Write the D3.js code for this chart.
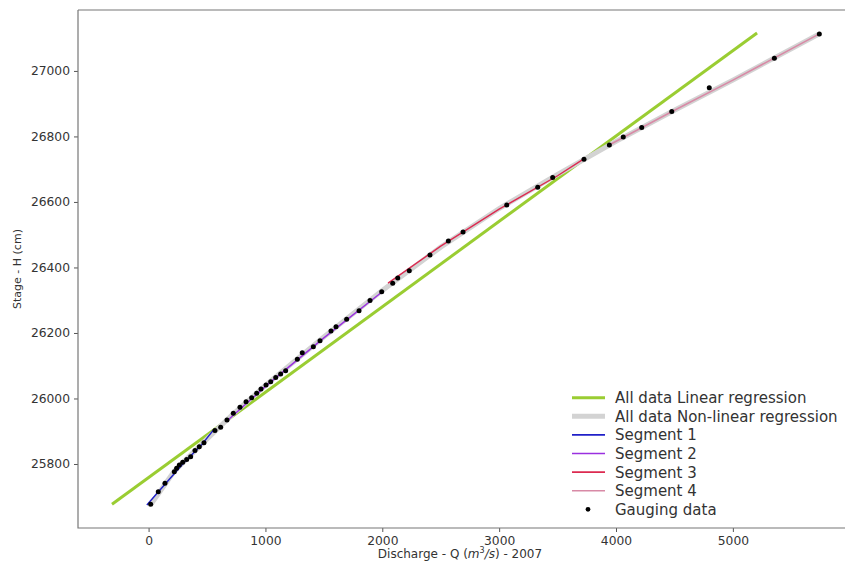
<!DOCTYPE html>
<html>
<head>
<meta charset="utf-8">
<script src="https://cdn.jsdelivr.net/npm/d3@7"></script>
<style>
  body { margin: 0; background: #fff; }
  text { font-family: "DejaVu Sans", sans-serif; fill: #333; }
</style>
</head>
<body>
<svg id="chart"></svg>
<script>
// gauging data, discharge Q (m3/s) and stage H (cm)
var gaugeQ = [18, 83, 140, 220, 240, 263, 292, 326, 360, 397, 434, 474, 568, 617, 671, 725, 782, 834, 882, 925,
  962, 1005, 1045, 1088, 1130, 1173, 1273, 1315, 1410, 1467, 1561, 1604, 1695, 1801, 1895, 1995, 2089, 2132, 2231, 2408,
  2565, 2691, 3065, 3330, 3458, 3726, 3943, 4062, 4220, 4477, 4798, 5355, 5740];
var gaugeH = [25677, 25715, 25741, 25776, 25787, 25797, 25805, 25814, 25822, 25841, 25853, 25865, 25902, 25912, 25934, 25955, 25973, 25990, 26002, 26016,
  26029, 26041, 26051, 26064, 26075, 26085, 26120, 26140, 26158, 26176, 26206, 26219, 26242, 26268, 26299, 26326, 26352, 26368, 26390, 26438,
  26481, 26508, 26591, 26645, 26675, 26730, 26774, 26798, 26827, 26876, 26949, 27039, 27113];

// regressions
var linQ = [-313, 5207];
var linH = [25677, 27116];
var nonlinQ = [20, 220, 470, 700, 1000, 1500, 2000, 2500, 3000, 3500, 4000, 4500, 5000, 5740];
var nonlinH = [25677, 25778, 25866, 25945, 26040, 26188, 26330, 26462, 26580, 26684, 26785, 26880, 26972, 27113];

// segments
var seg1Q = [-15, 150, 300, 450, 560];
var seg1H = [25675, 25742, 25803, 25857, 25906];
var seg2Q = [680, 1000, 1500, 2000];
var seg2H = [25934, 26037, 26185, 26326];
var seg3Q = [2049, 2500, 3000, 3500, 3718];
var seg3H = [26352, 26465, 26578, 26680, 26730];
var seg4Q = [3941, 4500, 5000, 5740];
var seg4H = [26774, 26880, 26972, 27113];

var xTicks = [0, 1000, 2000, 3000, 4000, 5000];
var yTicks = [25800, 26000, 26200, 26400, 26600, 26800, 27000];

var legendLabels = ["All data Linear regression", "All data Non-linear regression", "Segment 1", "Segment 2", "Segment 3", "Segment 4", "Gauging data"];

var width = 845, height = 566;

var svg = d3.select("#chart")
  .attr("width", width)
  .attr("height", height);

var x = d3.scaleLinear().domain([-604, 6040]).range([78, 854.4]);
var y = d3.scaleLinear().domain([25604.6, 27186]).range([528, 10]);

var zip = function(qs, hs) { return qs.map(function(q, i) { return [q, hs[i]]; }); };

var line = d3.line()
  .x(function(d) { return x(d[0]); })
  .y(function(d) { return y(d[1]); });

// lines
var series = [
  { data: zip(linQ, linH), color: "#9acd32", w: 3 },
  { data: zip(nonlinQ, nonlinH), color: "#d3d3d3", w: 5 },
  { data: zip(seg1Q, seg1H), color: "#2020c8", w: 1.4 },
  { data: zip(seg2Q, seg2H), color: "#9a30e0", w: 1.4 },
  { data: zip(seg3Q, seg3H), color: "#dc2a50", w: 1.4 },
  { data: zip(seg4Q, seg4H), color: "#d88aa6", w: 1.6 }
];

svg.append("g")
  .selectAll("path")
  .data(series)
  .join("path")
    .attr("d", function(d) { return line(d.data); })
    .attr("fill", "none")
    .attr("stroke", function(d) { return d.color; })
    .attr("stroke-width", function(d) { return d.w; });

svg.append("g")
  .selectAll("circle")
  .data(zip(gaugeQ, gaugeH))
  .join("circle")
    .attr("cx", function(d) { return x(d[0]); })
    .attr("cy", function(d) { return y(d[1]); })
    .attr("r", 2.5)
    .attr("fill", "#000");

// axes
var xAxis = svg.append("g")
  .attr("transform", "translate(0,528)")
  .call(d3.axisBottom(x).tickValues(xTicks).tickFormat(d3.format("d")).tickSize(4).tickPadding(4));

var yAxis = svg.append("g")
  .attr("transform", "translate(78,0)")
  .call(d3.axisLeft(y).tickValues(yTicks).tickFormat(d3.format("d")).tickSize(4).tickPadding(4));

[xAxis, yAxis].forEach(function(a) {
  a.select(".domain").remove();
  a.selectAll("line").attr("stroke", "#555");
  a.selectAll("text").attr("font-size", 12.3).attr("fill", "#333").attr("font-family", "DejaVu Sans, sans-serif");
});

// spines
svg.append("path")
  .attr("d", "M78,10H856M78,10V528H856")
  .attr("fill", "none")
  .attr("stroke", "#777")
  .attr("stroke-width", 1.2);

// axis labels
var xl = svg.append("text")
  .attr("x", 460)
  .attr("y", 558)
  .attr("text-anchor", "middle")
  .attr("font-size", 12);
xl.append("tspan").text("Discharge - Q (");
xl.append("tspan").attr("font-style", "italic").text("m");
xl.append("tspan").attr("font-size", 8).attr("dy", -5).text("3");
xl.append("tspan").attr("dy", 5).attr("font-style", "italic").text("/s");
xl.append("tspan").text(") - 2007");

svg.append("text")
  .attr("transform", "translate(21,269) rotate(-90)")
  .attr("text-anchor", "middle")
  .attr("font-size", 11)
  .text("Stage - H (cm)");

// legend
var legend = svg.append("g");
var rowY = function(i) { return 397.7 + i * 18.6; };
var handles = series.concat([{ dot: true }]);

legend.selectAll("g")
  .data(handles)
  .join("g")
    .each(function(d, i) {
      var g = d3.select(this);
      if (d.dot) {
        g.append("circle").attr("cx", 588).attr("cy", rowY(i)).attr("r", 2.4).attr("fill", "#000");
      } else {
        g.append("line")
          .attr("x1", 572).attr("x2", 605)
          .attr("y1", rowY(i)).attr("y2", rowY(i))
          .attr("stroke", d.color)
          .attr("stroke-width", i < 2 ? d.w : 1.6);
      }
      g.append("text")
        .attr("x", 615)
        .attr("y", rowY(i))
        .attr("dy", "0.36em")
        .attr("font-size", 15)
        .text(legendLabels[i]);
    });
</script>
</body>
</html>
